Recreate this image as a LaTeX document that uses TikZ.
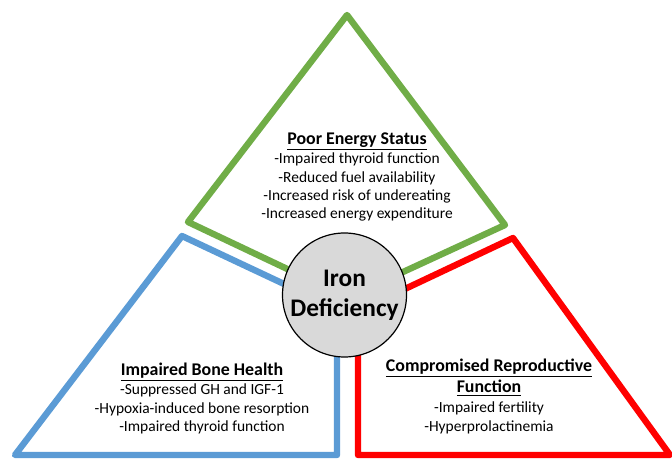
\documentclass[tikz,border=0pt]{standalone}
\usepackage{fontspec}
\setmainfont{Carlito}
\usetikzlibrary{calc}
\definecolor{energygreen}{RGB}{112,173,71}
\definecolor{boneblue}{RGB}{91,155,213}
\definecolor{reprored}{RGB}{255,0,0}
\definecolor{irongray}{RGB}{217,217,217}
\newcommand{\heading}[1]{{\bfseries\fontsize{13.4}{15}\selectfont\underline{#1}}}

\begin{document}
\begin{tikzpicture}[x=0.75pt,y=-0.75pt,every node/.style={align=center,inner sep=0pt,font=\fontsize{11.6}{13.8}\selectfont}, side/.style={line width=4.8pt,line join=round}]
	\useasboundingbox (0,0) rectangle (672,459);
	\draw[side,energygreen](300,275)--(188,222)--(347,15)--(505,225)--(390,278);
	\draw[side,boneblue](300,291.5)--(182,236)--(15,455)--(337,455)--(337,300);
	\draw[side,reprored](390,296)--(513,238)--(670,455)--(358,455)--(358,300);
	\node(iron)at(344.5,295)[circle,draw,line width=0.9pt,fill=irongray,minimum size=93pt,font=\bfseries\fontsize{19}{22.5}\selectfont]{Iron\\Deficiency};
	\node(energy)at(357,177)[]{\heading{Poor Energy Status}\\[1pt]-Impaired thyroid function\\-Reduced fuel availability\\-Increased risk of undereating\\-Increased energy expenditure};
	\node(bone)at(202,398.5)[]{\heading{Impaired Bone Health}\\[1pt]-Suppressed GH and IGF-1\\-Hypoxia-induced bone resorption\\-Impaired thyroid function};
	\node(repro)at(489,396.5)[]{\heading{Compromised Reproductive}\\[2pt]\heading{Function}\\[1pt]-Impaired fertility\\-Hyperprolactinemia};
\end{tikzpicture}
\end{document}
